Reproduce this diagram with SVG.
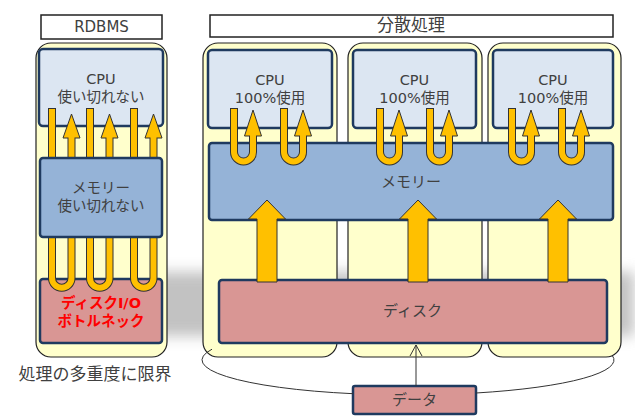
<svg xmlns="http://www.w3.org/2000/svg" width="635" height="418" viewBox="0 0 635 418">
<defs>
<style>
.t{font-family:"DejaVu Sans","Noto Sans CJK JP",sans-serif;font-size:15px;fill:#404040;text-anchor:middle}
.s{font-size:14.5px}
.ct{fill:#FFFFCC;stroke:#222;stroke-width:1.2}
.hd{fill:#fff;stroke:#222;stroke-width:1.5}
.cpu{fill:#DCE6F2;stroke:#1F3A5F;stroke-width:2.5}
.mem{fill:#95B3D7;stroke:#1F3A5F;stroke-width:2.5}
.dsk{fill:#D99694;stroke:#1F3A5F;stroke-width:2.5}
.tb{fill:none;stroke:#333;stroke-width:8}
.tg{fill:none;stroke:#FFC000;stroke-width:6}
.ah{fill:#FFC000;stroke:#333;stroke-width:1;stroke-linejoin:miter}
.ln{fill:none;stroke:#333;stroke-width:1}
.red{fill:#FF0000;font-weight:bold}
</style>
<filter id="blur" x="-10%" y="-50%" width="120%" height="200%"><feGaussianBlur stdDeviation="7"/></filter>
</defs>
<rect x="0" y="0" width="635" height="418" fill="#fff"/>
<rect x="120" y="272" width="514" height="64" fill="#9a9a9a" opacity="0.6" filter="url(#blur)"/>

<g id="header-rdbms"><rect class="hd" x="41" y="15" width="121" height="24"/><text class="t" x="101.5" y="32">RDBMS</text></g>
<g id="header-distributed"><rect class="hd" x="210" y="15" width="403" height="22"/><text class="t" x="411" y="31" style="font-size:17px">分散処理</text></g>

<g id="container-rdbms"><rect class="ct" x="36" y="43" width="131" height="314" rx="15"/></g>
<g id="container-node1"><rect class="ct" x="203" y="43" width="134" height="314" rx="15"/></g>
<g id="container-node2"><rect class="ct" x="348" y="43" width="134" height="314" rx="15"/></g>
<g id="container-node3"><rect class="ct" x="488" y="43" width="133" height="314" rx="15"/></g>

<g id="rdbms-cpu"><rect class="cpu" x="39" y="49" width="124" height="77" rx="4"/><text class="t s" x="101" y="84">CPU</text><text class="t s" x="101" y="102">使い切れない</text></g>
<g id="rdbms-disk"><rect class="dsk" x="40" y="279" width="122" height="64" rx="3"/><text class="t s red" x="101" y="308">ディスクI/O</text><text class="t s red" x="101" y="326">ボトルネック</text></g>

<g id="cpu1"><rect class="cpu" x="208" y="50" width="124" height="78" rx="4"/><text class="t s" x="270" y="85">CPU</text><text class="t s" x="270" y="103">100%使用</text></g>
<g id="cpu2"><rect class="cpu" x="353" y="50" width="123" height="78" rx="4"/><text class="t s" x="414.5" y="85">CPU</text><text class="t s" x="414.5" y="103">100%使用</text></g>
<g id="cpu3"><rect class="cpu" x="493" y="50" width="120" height="78" rx="4"/><text class="t s" x="553" y="85">CPU</text><text class="t s" x="553" y="103">100%使用</text></g>
<g id="memory"><rect class="mem" x="209" y="143" width="404" height="77" rx="3"/><text class="t" x="411" y="187">メモリー</text></g>
<g id="disk"><rect class="dsk" x="219" y="280" width="388" height="63" rx="3"/><text class="t" x="412.5" y="316">ディスク</text></g>
<g id="data"><rect class="dsk" x="353" y="386" width="123" height="28" rx="2"/><text class="t" x="414.5" y="405">データ</text></g>

<g id="connectors">
<path class="ln" d="M212 349.2 A206 35 0 0 0 353 393.7"/>
<path class="ln" d="M476 393 A206 35 0 0 0 612.3 355.5"/>
<line class="ln" x1="416" y1="386" x2="416" y2="345"/>
<polyline class="ln" points="410,356 416,345 422,356"/>

<path class="tb" d="M52 108 V278 A9.75 9.75 0 0 0 71.5 278 V137"/>
<path class="tb" d="M90 108 V278 A9.75 9.75 0 0 0 109.5 278 V137"/>
<path class="tb" d="M134 108 V278 A9.75 9.75 0 0 0 153.5 278 V137"/>
<polygon class="ah" points="63,138 71.5,114 80,138"/>
<polygon class="ah" points="101,138 109.5,114 118,138"/>
<polygon class="ah" points="145,138 153.5,114 162,138"/>
<path class="tg" d="M52 109 V278 A9.75 9.75 0 0 0 71.5 278 V137"/>
<path class="tg" d="M90 109 V278 A9.75 9.75 0 0 0 109.5 278 V137"/>
<path class="tg" d="M134 109 V278 A9.75 9.75 0 0 0 153.5 278 V137"/>

<path class="tb" d="M234 108 V152 A9.5 9.5 0 0 0 253 152 V135"/>
<path class="tb" d="M284 108 V152 A9.5 9.5 0 0 0 303 152 V135"/>
<path class="tb" d="M380 108 V152 A9.5 9.5 0 0 0 399 152 V135"/>
<path class="tb" d="M430 108 V152 A9.5 9.5 0 0 0 449 152 V135"/>
<path class="tb" d="M512 108 V152 A9.5 9.5 0 0 0 531 152 V135"/>
<path class="tb" d="M562 108 V152 A9.5 9.5 0 0 0 581 152 V135"/>
<polygon class="ah" points="244.5,136 253,110 261.5,136"/>
<polygon class="ah" points="294.5,136 303,110 311.5,136"/>
<polygon class="ah" points="390.5,136 399,110 407.5,136"/>
<polygon class="ah" points="440.5,136 449,110 457.5,136"/>
<polygon class="ah" points="522.5,136 531,110 539.5,136"/>
<polygon class="ah" points="572.5,136 581,110 589.5,136"/>
<path class="tg" d="M234 109 V152 A9.5 9.5 0 0 0 253 152 V135"/>
<path class="tg" d="M284 109 V152 A9.5 9.5 0 0 0 303 152 V135"/>
<path class="tg" d="M380 109 V152 A9.5 9.5 0 0 0 399 152 V135"/>
<path class="tg" d="M430 109 V152 A9.5 9.5 0 0 0 449 152 V135"/>
<path class="tg" d="M512 109 V152 A9.5 9.5 0 0 0 531 152 V135"/>
<path class="tg" d="M562 109 V152 A9.5 9.5 0 0 0 581 152 V135"/>

<polygon class="ah" points="257,282 257,219 248.5,219 267,200 285.5,219 277,219 277,282"/>
<polygon class="ah" points="408,282 408,219 399.5,219 418,200 436.5,219 428,219 428,282"/>
<polygon class="ah" points="548,282 548,219 539.5,219 558,200 576.5,219 568,219 568,282"/>
</g>

<g id="rdbms-memory"><rect class="mem" x="40" y="158" width="122" height="79" rx="3"/><text class="t s" x="101" y="193">メモリー</text><text class="t s" x="101" y="211">使い切れない</text></g>

<g id="label-limit"><text class="t" x="95" y="380" style="font-size:17px">処理の多重度に限界</text></g>
</svg>
